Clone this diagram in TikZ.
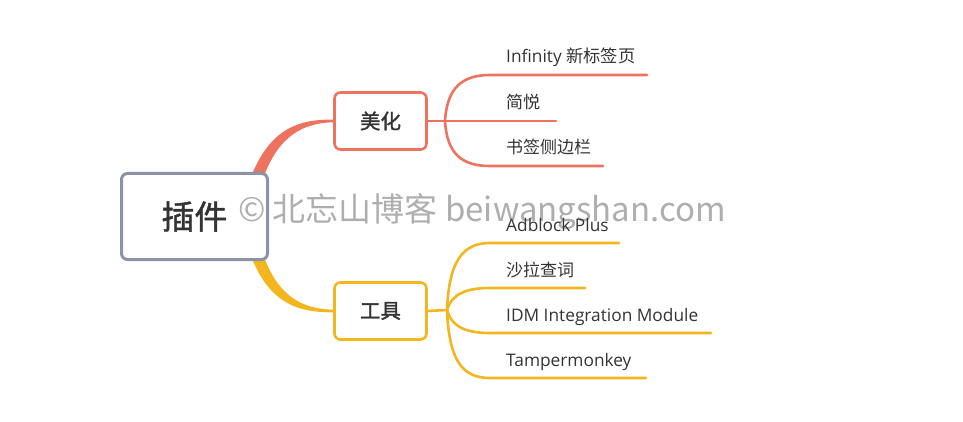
\documentclass[tikz,border=0pt]{standalone}
\usepackage{fontspec}
\setmainfont{Open Sans}
\newfontfamily\cjk{Noto Sans CJK SC}
\newfontfamily\cjkb[FakeBold=1.4]{Noto Sans CJK SC}
\definecolor{rootgray}{HTML}{8A94A6}
\definecolor{redline}{HTML}{EE735F}
\definecolor{goldline}{HTML}{F3B61F}
\definecolor{txtgray}{HTML}{333333}
\tikzset{
  topicbox/.style={draw,line width=2.6pt,rounded corners=6pt,fill=white,
    minimum width=92pt,minimum height=57pt,text=txtgray,font=\cjkb\fontsize{20.5}{20.5}\selectfont},
  leaf/.style={anchor=base west,inner sep=0pt,text=txtgray,font=\fontsize{17.3}{17.3}\selectfont},
  cjkleaf/.style={leaf,font=\cjk\fontsize{17}{17}\selectfont},
  twig/.style={line width=2.6pt,line cap=round}
}
\begin{document}
\begin{tikzpicture}[x=1pt,y=-1pt,line join=round]
  \useasboundingbox (0,0) rectangle (963,422);
  % tapered main branches
  \fill[redline] (253,172) .. controls (272,128) and (300,119) .. (333,119.7)
    -- (333,122.3) .. controls (303,123) and (279,136) .. (264,176) -- cycle;
  \fill[goldline] (253,261) .. controls (272,305) and (300,312.5) .. (333,312.3)
    -- (333,309.7) .. controls (303,309) and (279,297) .. (264,257) -- cycle;
  % topics
  \node[topicbox,draw=rootgray,line width=3pt,minimum width=146pt,minimum height=86pt,
    font=\cjkb\fontsize{33}{33}\selectfont] (plugin) at (194.5,216.5) {插件};
  \node[topicbox,draw=redline] (beauty) at (380.5,121) {美化};
  \node[topicbox,draw=goldline] (tools) at (380.5,311) {工具};
  % beauty leaves
  \coordinate (bhub) at (445,121);
  \draw[twig,redline] (beauty.east) -- (bhub);
  \draw[twig,redline] (bhub) .. controls (447,88) and (462,75) .. (490,75) -- (647,75);
  \draw[twig,redline] (bhub) -- (556,121);
  \draw[twig,redline] (bhub) .. controls (447,154) and (462,166) .. (490,166) -- (603,166);
  \node[leaf] (infinity) at (506,63) {Infinity {\cjk 新标签页}};
  \node[cjkleaf] (jianyue) at (506,109) {简悦};
  \node[cjkleaf] (sidebar) at (506,154) {书签侧边栏};
  % tools leaves
  \coordinate (thub) at (447,310);
  \draw[twig,goldline] (tools.east) -- (thub);
  \draw[twig,goldline] (thub) .. controls (449,262) and (462,243) .. (490,243) -- (619,243);
  \draw[twig,goldline] (thub) .. controls (452,293) and (468,288) .. (490,288) -- (585,288);
  \draw[twig,goldline] (thub) .. controls (452,328) and (468,333) .. (490,333) -- (711,333);
  \draw[twig,goldline] (thub) .. controls (449,360) and (462,378) .. (490,378) -- (646,378);
  \node[leaf] (adblock) at (506,231) {Adblock Plus};
  \node[cjkleaf] (salad) at (506,276) {沙拉查词};
  \node[leaf] (idm) at (506,321) {IDM Integration Module};
  \node[leaf] (tamper) at (506,366) {Tampermonkey};
  % watermark on top
  \node[text=black!70,text opacity=0.45,font=\cjk\fontsize{33}{33}\selectfont,inner sep=0pt]
    (mark) at (482,212) {© 北忘山博客 beiwangshan.com};
\end{tikzpicture}
\end{document}
